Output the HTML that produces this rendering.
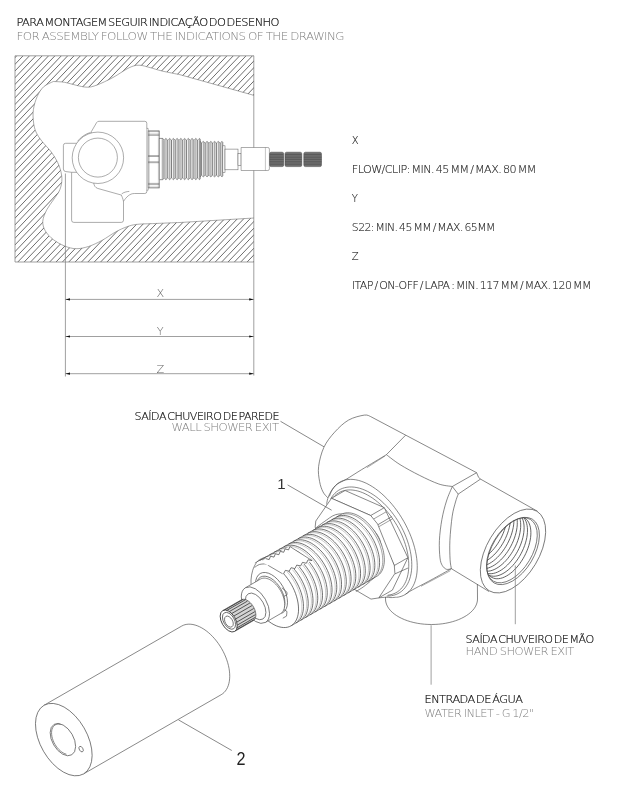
<!DOCTYPE html>
<html><head><meta charset="utf-8"><title>Assembly</title>
<style>
html,body{margin:0;padding:0;background:#fff;}
svg{display:block;filter:grayscale(1)}
text{font-family:"DejaVu Sans Light","DejaVu Sans","Liberation Sans",sans-serif;font-weight:200;}
.l{fill:none;stroke:#484848;stroke-width:0.65}
.lw{fill:#fff;stroke:#484848;stroke-width:0.65}
.h{stroke:#333;stroke-width:0.72;fill:none}
.d{stroke:#808080;stroke-width:0.75;fill:none}
.g{fill:none;stroke:#666;stroke-width:0.55}
.gw{fill:#fff;stroke:#666;stroke-width:0.55}
</style></head><body>
<svg width="619" height="800" viewBox="0 0 619 800">
<rect width="619" height="800" fill="#fff"/>
<defs><clipPath id="hc"><path clip-rule="evenodd" d="M15 55.8H254V262H15Z M53.30 81.50 C55.18 81.63 60.83 81.68 64.60 82.30 C68.37 82.92 72.13 84.38 75.90 85.20 C79.67 86.02 83.68 87.23 87.20 87.20 C90.72 87.17 92.70 86.62 97.00 85.00 C101.30 83.38 107.67 80.37 113.00 77.50 C118.33 74.63 124.67 69.85 129.00 67.80 C133.33 65.75 135.50 65.23 139.00 65.20 C142.50 65.17 146.17 66.63 150.00 67.60 C153.83 68.57 157.00 69.82 162.00 71.00 C167.00 72.18 177.00 74.08 180.00 74.70 L254 95.4 L254 218 L180 222.5 C175.45 222.68 159.95 223.28 152.70 223.60 C145.45 223.92 140.82 223.87 136.50 224.40 C132.18 224.93 130.30 225.53 126.80 226.80 C123.30 228.07 119.63 229.73 115.50 232.00 C111.37 234.27 106.50 237.98 102.00 240.40 C97.50 242.82 92.83 245.12 88.50 246.50 C84.17 247.88 79.98 248.78 76.00 248.70 C72.02 248.62 68.38 247.52 64.60 246.00 C60.82 244.48 56.53 242.15 53.30 239.60 C50.07 237.05 46.95 233.80 45.20 230.70 C43.45 227.60 42.53 224.50 42.80 221.00 C43.07 217.50 45.05 213.20 46.80 209.70 C48.55 206.20 51.13 203.32 53.30 200.00 C55.47 196.68 58.37 193.38 59.80 189.80 C61.23 186.22 62.03 182.55 61.90 178.50 C61.77 174.45 60.70 169.82 59.00 165.50 C57.30 161.18 54.53 156.63 51.70 152.60 C48.87 148.57 44.62 144.73 42.00 141.30 C39.38 137.87 37.42 135.22 36.00 132.00 C34.58 128.78 33.93 125.75 33.50 122.00 C33.07 118.25 32.78 113.75 33.40 109.50 C34.02 105.25 35.50 100.28 37.20 96.50 C38.90 92.72 40.92 89.30 43.60 86.80 C46.28 84.30 51.68 82.38 53.30 81.50Z"/></clipPath></defs>
<path class="h" clip-path="url(#hc)" d="M-428.08 262L-231.70 55.8M-421.71 262L-225.33 55.8M-415.34 262L-218.96 55.8M-408.97 262L-212.59 55.8M-402.60 262L-206.22 55.8M-396.23 262L-199.85 55.8M-389.86 262L-193.48 55.8M-383.49 262L-187.11 55.8M-377.12 262L-180.74 55.8M-370.75 262L-174.37 55.8M-364.38 262L-168.00 55.8M-358.01 262L-161.63 55.8M-351.64 262L-155.26 55.8M-345.27 262L-148.89 55.8M-338.90 262L-142.52 55.8M-332.53 262L-136.15 55.8M-326.16 262L-129.78 55.8M-319.79 262L-123.41 55.8M-313.42 262L-117.04 55.8M-307.05 262L-110.67 55.8M-300.68 262L-104.30 55.8M-294.31 262L-97.93 55.8M-287.94 262L-91.56 55.8M-281.57 262L-85.19 55.8M-275.20 262L-78.82 55.8M-268.83 262L-72.45 55.8M-262.46 262L-66.08 55.8M-256.09 262L-59.71 55.8M-249.72 262L-53.34 55.8M-243.35 262L-46.97 55.8M-236.98 262L-40.60 55.8M-230.61 262L-34.23 55.8M-224.24 262L-27.86 55.8M-217.87 262L-21.49 55.8M-211.50 262L-15.12 55.8M-205.13 262L-8.75 55.8M-198.76 262L-2.38 55.8M-192.39 262L3.99 55.8M-186.02 262L10.36 55.8M-179.65 262L16.73 55.8M-173.28 262L23.10 55.8M-166.91 262L29.47 55.8M-160.54 262L35.84 55.8M-154.17 262L42.21 55.8M-147.80 262L48.58 55.8M-141.43 262L54.95 55.8M-135.06 262L61.32 55.8M-128.69 262L67.69 55.8M-122.32 262L74.06 55.8M-115.95 262L80.43 55.8M-109.58 262L86.80 55.8M-103.21 262L93.17 55.8M-96.84 262L99.54 55.8M-90.47 262L105.91 55.8M-84.10 262L112.28 55.8M-77.73 262L118.65 55.8M-71.36 262L125.02 55.8M-64.99 262L131.39 55.8M-58.62 262L137.76 55.8M-52.25 262L144.13 55.8M-45.88 262L150.50 55.8M-39.51 262L156.87 55.8M-33.14 262L163.24 55.8M-26.77 262L169.61 55.8M-20.40 262L175.98 55.8M-14.03 262L182.35 55.8M-7.66 262L188.72 55.8M-1.29 262L195.09 55.8M5.08 262L201.46 55.8M11.45 262L207.83 55.8M17.82 262L214.20 55.8M24.19 262L220.57 55.8M30.56 262L226.94 55.8M36.93 262L233.31 55.8M43.30 262L239.68 55.8M49.67 262L246.05 55.8M56.04 262L252.42 55.8M62.41 262L258.79 55.8M68.78 262L265.16 55.8M75.15 262L271.53 55.8M81.52 262L277.90 55.8M87.89 262L284.27 55.8M94.26 262L290.64 55.8M100.63 262L297.01 55.8M107.00 262L303.38 55.8M113.37 262L309.75 55.8M119.74 262L316.12 55.8M126.11 262L322.49 55.8M132.48 262L328.86 55.8M138.85 262L335.23 55.8M145.22 262L341.60 55.8M151.59 262L347.97 55.8M157.96 262L354.34 55.8M164.33 262L360.71 55.8M170.70 262L367.08 55.8M177.07 262L373.45 55.8M183.44 262L379.82 55.8M189.81 262L386.19 55.8M196.18 262L392.56 55.8M202.55 262L398.93 55.8M208.92 262L405.30 55.8M215.29 262L411.67 55.8M221.66 262L418.04 55.8M228.03 262L424.41 55.8M234.40 262L430.78 55.8M240.77 262L437.15 55.8M247.14 262L443.52 55.8M253.51 262L449.89 55.8"/>
<path class="d" d="M254 55.8H15V262H254"/>
<path class="g" d="M53.30 81.50 C55.18 81.63 60.83 81.68 64.60 82.30 C68.37 82.92 72.13 84.38 75.90 85.20 C79.67 86.02 83.68 87.23 87.20 87.20 C90.72 87.17 92.70 86.62 97.00 85.00 C101.30 83.38 107.67 80.37 113.00 77.50 C118.33 74.63 124.67 69.85 129.00 67.80 C133.33 65.75 135.50 65.23 139.00 65.20 C142.50 65.17 146.17 66.63 150.00 67.60 C153.83 68.57 157.00 69.82 162.00 71.00 C167.00 72.18 177.00 74.08 180.00 74.70 L254 95.4"/>
<path class="g" d="M254 218 L180 222.5 C175.45 222.68 159.95 223.28 152.70 223.60 C145.45 223.92 140.82 223.87 136.50 224.40 C132.18 224.93 130.30 225.53 126.80 226.80 C123.30 228.07 119.63 229.73 115.50 232.00 C111.37 234.27 106.50 237.98 102.00 240.40 C97.50 242.82 92.83 245.12 88.50 246.50 C84.17 247.88 79.98 248.78 76.00 248.70 C72.02 248.62 68.38 247.52 64.60 246.00 C60.82 244.48 56.53 242.15 53.30 239.60 C50.07 237.05 46.95 233.80 45.20 230.70 C43.45 227.60 42.53 224.50 42.80 221.00 C43.07 217.50 45.05 213.20 46.80 209.70 C48.55 206.20 51.13 203.32 53.30 200.00 C55.47 196.68 58.37 193.38 59.80 189.80 C61.23 186.22 62.03 182.55 61.90 178.50 C61.77 174.45 60.70 169.82 59.00 165.50 C57.30 161.18 54.53 156.63 51.70 152.60 C48.87 148.57 44.62 144.73 42.00 141.30 C39.38 137.87 37.42 135.22 36.00 132.00 C34.58 128.78 33.93 125.75 33.50 122.00 C33.07 118.25 32.78 113.75 33.40 109.50 C34.02 105.25 35.50 100.28 37.20 96.50 C38.90 92.72 40.92 89.30 43.60 86.80 C46.28 84.30 51.68 82.38 53.30 81.50"/>
<path class="d" d="M253.8 55.8V375.5 M65.4 173.5V376.5"/>
<path class="d" d="M65.4 299.4H253.8"/>
<path fill="#111" d="M65.4 299.4l4.6 -1.1v2.2z M253.8 299.4l-4.6 -1.1v2.2z"/>
<path class="d" d="M65.4 336.5H253.8"/>
<path fill="#111" d="M65.4 336.5l4.6 -1.1v2.2z M253.8 336.5l-4.6 -1.1v2.2z"/>
<path class="d" d="M65.4 373.7H253.8"/>
<path fill="#111" d="M65.4 373.7l4.6 -1.1v2.2z M253.8 373.7l-4.6 -1.1v2.2z"/>
<path class="gw" d="M71.6 172.3V220.2Q71.6 222.4 73.8 222.4H121.3Q123.5 222.4 123.5 220.2V201.2"/>
<path class="gw" d="M78 143.3H65.6Q63.4 143.3 63.4 145.5V169Q63.4 171.4 65.8 171.6L71.6 172.3H78Z"/>
<path class="gw" d="M91.3 131.7L96.6 122.6Q97.4 121.3 98.9 121.3H144.8Q146.8 121.3 146.8 123.3V191.5Q146.8 193.5 144.8 193.5H134.5C129.5 193.5 126.5 197 123.5 201.3C122.8 198.5 122 196.3 121.2 195L97.6 188.4C95 187.4 94 185.5 93.8 183Z"/>
<path class="g" d="M121.6 194C123.5 192.3 126.5 191.6 129.3 191.4"/>
<circle class="gw" cx="97.9" cy="157.8" r="25.7"/>
<circle class="g" cx="97.9" cy="157.6" r="19.5"/>
<path class="g" d="M77.5 141.3A26.6 26.6 0 0 1 90.6 132.4"/>
<path class="gw" d="M146.8 128.4H148.1V190.2H146.8"/>
<rect class="gw" x="148.1" y="130.8" width="11.2" height="57.2"/>
<path class="g" d="M148.1 131.6H159.3M148.1 134.2H159.3M148.1 135.4H159.3M148.1 155.6H159.3M148.1 156.5H159.3M148.1 161.8H159.3M148.1 162.7H159.3M148.1 183.4H159.3M148.1 184.6H159.3M148.1 187.2H159.3"/>
<path class="g" style="stroke-opacity:0.6" d="M149.2 130.8V188M158.4 130.8V188"/>
<path d="M159.30 138.40 L162.90 138.40 L164.02 140.20 L165.89 138.40 L167.76 140.20 L169.63 138.40 L171.50 140.20 L173.37 138.40 L175.24 140.20 L177.11 138.40 L178.98 140.20 L180.85 138.40 L182.72 140.20 L184.59 138.40 L186.46 140.20 L188.33 138.40 L190.20 140.20 L192.07 138.40 L193.94 140.20 L195.81 138.40 L197.68 140.20 L199.55 138.40 L200.30 139.48 L200.30 178.62 L199.55 179.70 L197.68 177.90 L195.81 179.70 L193.94 177.90 L192.07 179.70 L190.20 177.90 L188.33 179.70 L186.46 177.90 L184.59 179.70 L182.72 177.90 L180.85 179.70 L178.98 177.90 L177.11 179.70 L175.24 177.90 L173.37 179.70 L171.50 177.90 L169.63 179.70 L167.76 177.90 L165.89 179.70 L164.02 177.90 L162.90 179.70 L159.30 179.70Z" fill="#dedede" stroke="#5a5a5a" stroke-width="0.6"/>
<rect x="159.30" y="138.40" width="2.80" height="41.30" fill="#fff" stroke="#666" stroke-width="0.5"/>
<path d="M164.96 139.66V178.44M168.70 139.66V178.44M172.44 139.66V178.44M176.18 139.66V178.44M179.92 139.66V178.44M183.66 139.66V178.44M187.40 139.66V178.44M191.14 139.66V178.44M194.88 139.66V178.44M198.62 139.66V178.44" stroke="#fff" stroke-width="0.9" fill="none"/>
<path d="M164.02 140.20V177.90M167.76 140.20V177.90M171.50 140.20V177.90M175.24 140.20V177.90M178.98 140.20V177.90M182.72 140.20V177.90M186.46 140.20V177.90M190.20 140.20V177.90M193.94 140.20V177.90M197.68 140.20V177.90" stroke="#4a4a4a" stroke-width="0.65" fill="none"/>
<path d="M165.89 138.80V179.30M169.63 138.80V179.30M173.37 138.80V179.30M177.11 138.80V179.30M180.85 138.80V179.30M184.59 138.80V179.30M188.33 138.80V179.30M192.07 138.80V179.30M195.81 138.80V179.30M199.55 138.80V179.30" stroke="#777" stroke-width="0.55" fill="none"/>
<path d="M200.30 141.40 L200.30 141.40 L201.43 143.00 L203.30 141.40 L205.18 143.00 L207.05 141.40 L208.93 143.00 L210.80 141.40 L212.68 143.00 L214.55 141.40 L216.43 143.00 L218.30 141.40 L220.18 143.00 L222.05 141.40 L222.80 142.36 L222.80 175.84 L222.05 176.80 L220.18 175.20 L218.30 176.80 L216.43 175.20 L214.55 176.80 L212.68 175.20 L210.80 176.80 L208.93 175.20 L207.05 176.80 L205.18 175.20 L203.30 176.80 L201.43 175.20 L200.30 176.80 L200.30 176.80Z" fill="#dedede" stroke="#5a5a5a" stroke-width="0.6"/>
<path d="M202.36 142.52V175.68M206.11 142.52V175.68M209.86 142.52V175.68M213.61 142.52V175.68M217.36 142.52V175.68M221.11 142.52V175.68" stroke="#fff" stroke-width="0.9" fill="none"/>
<path d="M201.43 143.00V175.20M205.18 143.00V175.20M208.93 143.00V175.20M212.68 143.00V175.20M216.43 143.00V175.20M220.18 143.00V175.20" stroke="#4a4a4a" stroke-width="0.65" fill="none"/>
<path d="M203.30 141.80V176.40M207.05 141.80V176.40M210.80 141.80V176.40M214.55 141.80V176.40M218.30 141.80V176.40M222.05 141.80V176.40" stroke="#777" stroke-width="0.55" fill="none"/>
<rect class="gw" x="222.8" y="145.8" width="2.2" height="26.6"/>
<rect class="gw" x="225" y="149.1" width="13" height="20.7"/>
<rect class="gw" x="238" y="153.3" width="3.1" height="12.2"/>
<path class="gw" d="M241.1 147.5H267.8Q269.4 147.5 269.4 149.1V168.9Q269.4 170.5 267.8 170.5H241.1Z"/>
<path class="g" style="stroke-opacity:0.7" d="M265.4 147.5V170.5"/>
<rect x="269.6" y="152.2" width="14.1" height="14.4" rx="1.6" fill="#6e6e6e" stroke="#444" stroke-width="0.5"/>
<path d="M270.1 154.6H283.2M269.6 157.2H283.7M269.6 159.4H283.7M269.6 161.8H283.7M270.1 164.2H283.2" stroke="#444" stroke-width="0.5"/>
<rect x="285.0" y="152.2" width="16.8" height="14.4" rx="1.6" fill="#6e6e6e" stroke="#444" stroke-width="0.5"/>
<path d="M285.5 154.6H301.3M285.0 157.2H301.8M285.0 159.4H301.8M285.0 161.8H301.8M285.5 164.2H301.3" stroke="#444" stroke-width="0.5"/>
<rect x="303.8" y="152.2" width="17.7" height="14.4" rx="1.6" fill="#6e6e6e" stroke="#444" stroke-width="0.5"/>
<path d="M304.3 154.6H321.0M303.8 157.2H321.5M303.8 159.4H321.5M303.8 161.8H321.5M304.3 164.2H321.0" stroke="#444" stroke-width="0.5"/>
<path class="lw" d="M44.00 705.31 L181.60 626.11 L183.25 625.29 L185.01 624.70 L186.88 624.32 L188.83 624.17 L190.86 624.24 L192.96 624.53 L195.11 625.05 L197.29 625.78 L199.51 626.72 L201.73 627.88 L203.95 629.23 L206.16 630.78 L208.33 632.51 L210.47 634.41 L212.55 636.47 L214.55 638.68 L216.48 641.02 L218.32 643.48 L220.05 646.05 L221.66 648.70 L223.16 651.43 L224.51 654.21 L225.73 657.03 L226.79 659.87 L227.70 662.71 L228.45 665.54 L229.02 668.34 L229.43 671.09 L229.67 673.78 L229.73 676.38 L229.62 678.88 L229.33 681.27 L228.87 683.53 L228.24 685.65 L227.45 687.61 L226.49 689.40 L225.38 691.02 L224.13 692.44 L222.73 693.67 L221.20 694.69 L83.60 773.89"/>
<ellipse class="lw" cx="63.80" cy="739.60" rx="39.60" ry="23.40" transform="rotate(60.00 63.80 739.60)"/>
<ellipse class="l" cx="62.90" cy="739.60" rx="17.60" ry="10.60" transform="rotate(60.00 62.90 739.60)"/>
<path class="l" d="M60.60 724.37 L59.11 724.12 L57.70 724.13 L56.39 724.40 L55.20 724.92 L54.15 725.69 L53.26 726.69 L52.55 727.91 L52.03 729.32 L51.70 730.91 L51.57 732.63 L51.65 734.48 L51.92 736.40 L52.40 738.37 L53.07 740.36 L53.92 742.33 L54.93 744.25 L56.08 746.08 L57.37 747.80 L58.76 749.37 L60.23 750.77 L61.75 751.98 L63.31 752.97 L64.87 753.72 L66.40 754.23"/>
<ellipse class="l" cx="81.10" cy="749.10" rx="3.00" ry="1.80" transform="rotate(60.00 81.10 749.10)"/>
<path class="lw" d="M385.5 597 L385.50 599.00 L385.64 601.00 L386.07 602.99 L386.77 604.95 L387.75 606.88 L389.00 608.76 L390.51 610.58 L392.28 612.32 L394.29 613.99 L396.52 615.56 L398.97 617.03 L401.63 618.39 L404.46 619.63 L407.47 620.74 L410.62 621.72 L413.90 622.56 L417.29 623.25 L420.76 623.80 L424.30 624.19 L427.89 624.42 L431.50 624.50 L435.11 624.42 L438.70 624.19 L442.24 623.80 L445.71 623.25 L449.10 622.56 L452.38 621.72 L455.53 620.74 L458.54 619.63 L461.37 618.39 L464.03 617.03 L466.48 615.56 L468.71 613.99 L470.72 612.32 L472.49 610.58 L474.00 608.76 L475.25 606.88 L476.23 604.95 L476.93 602.99 L477.36 601.00 L477.50 599.00 L477.4 584.2"/>
<path class="l" d="M327.80 497.80 C327.00 496.82 324.37 494.62 323.00 491.90 C321.63 489.18 320.33 485.73 319.60 481.50 C318.87 477.27 317.88 472.20 318.60 466.50 C319.32 460.80 321.23 453.02 323.90 447.30 C326.57 441.58 330.50 436.73 334.60 432.20 C338.70 427.67 343.55 422.95 348.50 420.10 C353.45 417.25 360.60 415.68 364.30 415.10 C368.00 414.52 369.63 416.35 370.70 416.60 L476.6 472.7 L478.6 477.4 L480.5 479.1 L537.5 511.3"/>
<path class="l" d="M405.60 435.20 L386.40 454.70"/>
<path class="l" d="M386.40 454.70 C388.67 456.35 394.50 461.17 400.00 464.60 C405.50 468.03 412.93 472.07 419.40 475.30 C425.87 478.53 433.32 482.13 438.80 484.00 C444.28 485.87 450.05 486.08 452.30 486.50"/>
<path class="l" d="M386.40 454.70 C382.28 457.18 368.40 465.50 361.70 469.60 C355.00 473.70 350.30 476.87 346.20 479.30 C342.10 481.73 339.60 482.25 337.10 484.20 C334.60 486.15 332.75 488.62 331.20 491.00 C329.65 493.38 328.57 496.25 327.80 498.50 C327.03 500.75 326.80 503.50 326.60 504.50"/>
<path class="l" style="stroke-opacity:0.7" d="M385.00 456.00 L366.90 467.70"/>
<path class="l" d="M452.30 486.50 L476.60 472.70"/>
<path class="l" d="M458.20 494.10 L480.50 479.10"/>
<path class="l" d="M452.30 486.50 L458.20 494.10"/>
<path class="l" d="M452.30 486.50 C451.33 488.92 448.23 495.52 446.50 501.00 C444.77 506.48 443.08 512.83 441.90 519.40 C440.72 525.97 439.72 533.97 439.40 540.40 C439.08 546.83 439.52 553.82 440.00 558.00 C440.48 562.18 441.22 563.62 442.30 565.50 C443.38 567.38 444.98 568.77 446.50 569.30 C448.02 569.83 450.58 568.80 451.40 568.70"/>
<path class="l" d="M458.20 494.10 C457.75 495.42 456.50 498.32 455.50 502.00 C454.50 505.68 453.13 509.80 452.20 516.20 C451.27 522.60 450.25 533.13 449.90 540.40 C449.55 547.67 449.85 555.08 450.10 559.80 C450.35 564.52 451.18 567.22 451.40 568.70"/>
<path class="l" d="M451.40 568.70 L489.00 591.50"/>
<path class="l" d="M451.40 568.70 C448.00 570.58 437.53 576.45 431.00 580.00 C424.47 583.55 416.45 587.63 412.20 590.00 C407.95 592.37 406.62 593.50 405.50 594.20"/>
<path class="l" style="stroke-width:0.45" d="M450.40 570.70 L421.00 586.30"/>
<ellipse class="lw" cx="513.00" cy="551.00" rx="46.40" ry="26.00" transform="rotate(121.00 513.00 551.00)"/>
<ellipse class="l" cx="513.10" cy="551.00" rx="37.20" ry="21.00" transform="rotate(121.00 513.10 551.00)"/>
<defs><clipPath id="bore"><ellipse cx="511.90" cy="550.30" rx="36.0" ry="20.2" transform="rotate(121.00 511.90 550.30)"/></clipPath></defs>
<ellipse class="l" cx="511.90" cy="550.30" rx="36.00" ry="20.20" transform="rotate(121.00 511.90 550.30)"/>
<path class="l" style="stroke-width:0.8;stroke:#3c3c3c" clip-path="url(#bore)" d="M489.42 575.53 L490.66 576.63 L492.03 577.51 L493.52 578.15 L495.12 578.57 L496.82 578.74 L498.61 578.68 L500.47 578.38 L502.38 577.85 L504.34 577.08 L506.32 576.09 L508.32 574.89 L510.31 573.47 L512.29 571.86 L514.23 570.06 L516.13 568.09 L517.96 565.96 L519.72 563.69 L521.39 561.30 L522.96 558.80 L524.41 556.22 L525.74 553.57 L526.94 550.87 L527.99 548.15 L528.88 545.42 L529.62 542.71 L530.20 540.04 L530.60 537.42 L530.83 534.88 L530.89 532.43 L530.78 530.10 L530.49 527.90 L530.03 525.85 L529.40 523.97 L528.61 522.26 L527.66 520.75 L526.56 519.44 L525.32 518.34 L523.95 517.46 L522.46 516.82 L520.86 516.40 M486.03 573.03 L487.26 574.12 L488.64 575.00 L490.13 575.65 L491.73 576.06 L493.43 576.24 L495.22 576.18 L497.07 575.88 L498.99 575.34 L500.94 574.58 L502.93 573.59 L504.92 572.38 L506.92 570.96 L508.89 569.35 L510.84 567.55 L512.74 565.58 L514.57 563.45 L516.33 561.18 L518.00 558.79 L519.57 556.29 L521.02 553.71 L522.35 551.06 L523.54 548.37 L524.59 545.64 L525.49 542.92 L526.23 540.21 L526.80 537.53 L527.21 534.91 L527.44 532.37 L527.50 529.93 L527.38 527.60 L527.09 525.40 L526.63 523.35 L526.00 521.46 L525.21 519.76 L524.27 518.24 L523.17 516.93 L521.93 515.83 L520.56 514.96 L519.07 514.31 L517.47 513.90 M482.63 570.52 L483.87 571.62 L485.24 572.49 L486.73 573.14 L488.34 573.55 L490.04 573.73 L491.82 573.67 L493.68 573.37 L495.59 572.84 L497.55 572.07 L499.53 571.08 L501.53 569.87 L503.52 568.46 L505.50 566.84 L507.45 565.05 L509.34 563.07 L511.18 560.95 L512.94 558.68 L514.60 556.29 L516.17 553.79 L517.63 551.21 L518.95 548.56 L520.15 545.86 L521.20 543.14 L522.10 540.41 L522.83 537.70 L523.41 535.03 L523.81 532.41 L524.04 529.87 L524.10 527.42 L523.99 525.09 L523.70 522.89 L523.24 520.84 L522.61 518.96 L521.82 517.25 L520.87 515.74 L519.77 514.43 L518.54 513.33 L517.17 512.45 L515.67 511.81 L514.07 511.39 M479.24 568.01 L480.48 569.11 L481.85 569.99 L483.34 570.63 L484.94 571.05 L486.64 571.22 L488.43 571.16 L490.28 570.86 L492.20 570.33 L494.15 569.57 L496.14 568.58 L498.14 567.37 L500.13 565.95 L502.11 564.34 L504.05 562.54 L505.95 560.57 L507.78 558.44 L509.54 556.17 L511.21 553.78 L512.78 551.28 L514.23 548.70 L515.56 546.05 L516.75 543.35 L517.80 540.63 L518.70 537.90 L519.44 535.19 L520.01 532.52 L520.42 529.90 L520.65 527.36 L520.71 524.91 L520.59 522.58 L520.30 520.38 L519.84 518.33 L519.22 516.45 L518.43 514.74 L517.48 513.23 L516.38 511.92 L515.14 510.82 L513.77 509.95 L512.28 509.30 L510.68 508.89 M475.84 565.51 L477.08 566.61 L478.45 567.48 L479.95 568.13 L481.55 568.54 L483.25 568.72 L485.03 568.66 L486.89 568.36 L488.80 567.83 L490.76 567.06 L492.74 566.07 L494.74 564.86 L496.74 563.45 L498.71 561.83 L500.66 560.03 L502.55 558.06 L504.39 555.93 L506.15 553.67 L507.82 551.27 L509.38 548.78 L510.84 546.19 L512.17 543.54 L513.36 540.85 L514.41 538.13 L515.31 535.40 L516.05 532.69 L516.62 530.01 L517.02 527.39 L517.26 524.85 L517.31 522.41 L517.20 520.08 L516.91 517.88 L516.45 515.83 L515.82 513.94 L515.03 512.24 L514.08 510.72 L512.99 509.41 L511.75 508.32 L510.38 507.44 L508.89 506.79 L507.28 506.38 M472.45 563.00 L473.69 564.10 L475.06 564.98 L476.55 565.62 L478.15 566.04 L479.85 566.21 L481.64 566.15 L483.50 565.85 L485.41 565.32 L487.37 564.55 L489.35 563.56 L491.35 562.36 L493.34 560.94 L495.32 559.33 L497.26 557.53 L499.16 555.56 L500.99 553.43 L502.75 551.16 L504.42 548.77 L505.99 546.27 L507.44 543.69 L508.77 541.04 L509.97 538.34 L511.02 535.62 L511.91 532.89 L512.65 530.18 L513.22 527.51 L513.63 524.89 L513.86 522.35 L513.92 519.90 L513.81 517.57 L513.52 515.37 L513.06 513.32 L512.43 511.44 L511.64 509.73 L510.69 508.22 L509.59 506.91 L508.35 505.81 L506.98 504.93 L505.49 504.29 L503.89 503.87 M469.06 560.50 L470.29 561.59 L471.67 562.47 L473.16 563.12 L474.76 563.53 L476.46 563.71 L478.24 563.65 L480.10 563.35 L482.01 562.81 L483.97 562.05 L485.96 561.06 L487.95 559.85 L489.95 558.43 L491.92 556.82 L493.87 555.02 L495.77 553.05 L497.60 550.92 L499.36 548.65 L501.03 546.26 L502.60 543.76 L504.05 541.18 L505.38 538.53 L506.57 535.84 L507.62 533.11 L508.52 530.39 L509.26 527.68 L509.83 525.00 L510.24 522.38 L510.47 519.84 L510.53 517.40 L510.41 515.06 L510.12 512.87 L509.66 510.82 L509.03 508.93 L508.24 507.23 L507.30 505.71 L506.20 504.40 L504.96 503.30 L503.59 502.43 L502.10 501.78 L500.49 501.37 M465.66 557.99 L466.90 559.09 L468.27 559.96 L469.76 560.61 L471.37 561.02 L473.07 561.20 L474.85 561.14 L476.71 560.84 L478.62 560.31 L480.58 559.54 L482.56 558.55 L484.56 557.34 L486.55 555.93 L488.53 554.31 L490.47 552.52 L492.37 550.54 L494.21 548.42 L495.96 546.15 L497.63 543.76 L499.20 541.26 L500.66 538.67 L501.98 536.03 L503.18 533.33 L504.23 530.61 L505.12 527.88 L505.86 525.17 L506.44 522.49 L506.84 519.88 L507.07 517.34 L507.13 514.89 L507.02 512.56 L506.73 510.36 L506.27 508.31 L505.64 506.43 L504.85 504.72 L503.90 503.21 L502.80 501.89 L501.57 500.80 L500.20 499.92 L498.70 499.28 L497.10 498.86"/>
<path class="l" d="M396.46 597.34 L398.84 596.98 L401.11 596.38 L403.27 595.54 L405.29 594.46 L407.18 593.15 L408.93 591.61 L410.53 589.86 L411.97 587.89 L413.24 585.72 L414.35 583.35 L415.28 580.80 L416.04 578.07 L416.62 575.18 L417.01 572.14 L417.22 568.95 L417.24 565.64 L417.08 562.22 L416.74 558.70 L416.21 555.10 L415.50 551.42 L414.61 547.70 L413.55 543.93 L412.32 540.14 L410.92 536.35 L409.36 532.56 L407.65 528.80 L405.80 525.07 L403.81 521.40 L401.68 517.81 L399.44 514.29 L397.08 510.88 L394.63 507.58 L392.08 504.41 L389.45 501.37 L386.75 498.50 L383.99 495.78 L381.18 493.24 L378.34 490.89 L375.47 488.74 L372.59 486.79 L369.70 485.05 L366.83 483.53 L363.98 482.24 L361.17 481.19 L358.40 480.36 L355.70 479.78 L353.06 479.44 L350.50 479.35 L348.03 479.50 L345.66 479.89 L343.40 480.52 L341.26 481.39 L339.25 482.50 L337.38 483.84 L335.65 485.40 L334.07 487.19 L332.66 489.18 L331.40 491.38 L330.32 493.77 L329.41 496.35"/>
<path class="l" d="M396.40 597.20 C395.50 597.27 392.73 597.60 391.00 597.60 C389.27 597.60 388.03 597.15 386.00 597.20 C383.97 597.25 380.00 597.78 378.80 597.90"/>
<path class="l" d="M386.65 596.04 L389.10 596.00 L391.47 595.73 L393.75 595.24 L395.93 594.53 L398.00 593.61 L399.95 592.47 L401.77 591.12 L403.46 589.57 L405.01 587.82 L406.42 585.88 L407.67 583.77 L408.76 581.47 L409.69 579.02 L410.45 576.41 L411.05 573.66 L411.47 570.77 L411.72 567.77 L411.79 564.66 L411.69 561.45 L411.42 558.16 L410.97 554.81 L410.35 551.40 L409.56 547.95 L408.61 544.47 L407.49 540.98 L406.22 537.49 L404.80 534.02 L403.22 530.58 L401.51 527.19 L399.67 523.85 L397.70 520.59 L395.62 517.41 L393.42 514.33 L391.13 511.36 L388.75 508.51 L386.28 505.80 L383.75 503.24 L381.15 500.83 L378.51 498.59 L375.83 496.52 L373.12 494.64 L370.39 492.95 L367.66 491.46 L364.93 490.17 L362.22 489.10 L359.54 488.23 L356.90 487.59 L354.31 487.17 L351.78 486.97 L349.32 486.99 L346.94 487.24 L344.65 487.71 L342.46 488.39 L340.39 489.30 L338.42 490.42 L336.59 491.75 L334.88 493.28 L333.32 495.01 L331.91 496.93 L330.64 499.03"/>
<path class="l" d="M387.80 595.18 L389.95 594.87 L392.02 594.36 L394.00 593.66 L395.88 592.77 L397.66 591.69 L399.32 590.43 L400.86 588.99 L402.29 587.38 L403.58 585.60 L404.73 583.66 L405.75 581.57 L406.63 579.33 L407.36 576.95 L407.94 574.45 L408.37 571.83 L408.65 569.09 L408.78 566.26 L408.75 563.34 L408.57 560.35 L408.24 557.29 L407.75 554.17 L407.12 551.01 L406.34 547.82 L405.41 544.61 L404.34 541.39 L403.14 538.17 L401.80 534.98 L400.34 531.81 L398.75 528.68 L397.04 525.60 L395.23 522.59 L393.32 519.65 L391.30 516.79 L389.20 514.04 L387.02 511.39 L384.77 508.85 L382.45 506.44 L380.08 504.17 L377.66 502.04 L375.20 500.06 L372.72 498.24 L370.21 496.59 L367.70 495.11 L365.18 493.80 L362.68 492.68 L360.19 491.74 L357.73 490.99 L355.31 490.44 L352.93 490.08 L350.61 489.91 L348.35 489.94 L346.16 490.17 L344.05 490.60 L342.04 491.21 L340.11 492.02 L338.29 493.02 L336.58 494.20 L334.98 495.57 L333.51 497.11 L332.16 498.82"/>
<path class="lw" d="M331.50 498.30 L345.10 490.50 L384.30 507.70 L407.90 557.70 L392.40 590.10 L378.80 597.90 L394.30 565.50 L370.70 515.50Z"/>
<path class="l" d="M370.70 515.50 L384.30 507.70"/>
<path class="l" d="M394.30 565.50 L407.90 557.70"/>
<path class="l" style="stroke-opacity:0.8" d="M372.60 519.60 L386.00 511.90"/>
<path class="l" d="M378.10 524.60 L391.70 516.60"/>
<path class="l" style="stroke-opacity:0.8" d="M379.00 526.60 L392.60 518.80"/>
<path class="l" d="M394.90 573.90 L407.90 568.10"/>
<path class="lw" d="M331.50 498.30 L370.70 515.50 L377.60 524.00 L394.30 565.50 L394.90 573.50 L378.80 597.90 L371.00 599.10 L339.60 580.70 L316.00 530.70 L315.20 526.90 L315.80 521.00Z"/>
<path class="l" d="M315.50 528.20 C316.95 527.12 320.82 523.97 324.20 521.70 C327.58 519.43 331.70 515.78 335.80 514.60 C339.90 513.42 344.48 513.85 348.80 514.60 C353.12 515.35 357.83 516.83 361.70 519.10 C365.57 521.37 368.98 524.75 372.00 528.20 C375.02 531.65 378.20 535.20 379.80 539.80 C381.40 544.40 381.77 550.97 381.60 555.80 C381.43 560.63 380.35 564.92 378.80 568.80 C377.25 572.68 374.88 576.08 372.30 579.10 C369.72 582.12 366.03 584.83 363.30 586.90 C360.57 588.97 357.13 590.73 355.90 591.50"/>
<path class="lw" d="M254.80 563.15 L341.20 514.43 L342.66 513.72 L344.22 513.19 L345.88 512.87 L347.61 512.75 L349.42 512.83 L351.28 513.10 L353.20 513.58 L355.15 514.25 L357.12 515.12 L359.10 516.17 L361.09 517.40 L363.06 518.80 L365.01 520.37 L366.92 522.09 L368.78 523.96 L370.58 525.95 L372.31 528.07 L373.96 530.29 L375.52 532.61 L376.98 535.00 L378.32 537.46 L379.55 539.96 L380.65 542.50 L381.62 545.06 L382.44 547.62 L383.13 550.16 L383.66 552.68 L384.04 555.15 L384.27 557.56 L384.35 559.89 L384.27 562.14 L384.03 564.28 L383.64 566.30 L383.09 568.20 L382.40 569.95 L381.57 571.56 L380.59 573.00 L379.48 574.27 L378.25 575.36 L376.90 576.27 L291.00 625.85"/>
<path class="l" style="stroke-width:0.72;stroke:#3c3c3c" d="M336.41 517.13 L338.04 516.35 L339.80 515.81 L341.66 515.51 L343.62 515.46 L345.67 515.65 L347.78 516.10 L349.93 516.79 L352.12 517.71 L354.33 518.87 L356.54 520.25 L358.73 521.84 L360.88 523.63 L362.99 525.61 L365.03 527.76 L366.98 530.06 L368.84 532.50 L370.59 535.06 L372.22 537.71 L373.71 540.45 L375.05 543.24 L376.23 546.08 L377.25 548.92 L378.09 551.76 L378.75 554.57 L379.22 557.34 L379.50 560.03 L379.59 562.63 L379.49 565.12 L379.20 567.48 L378.72 569.69 L378.05 571.74 L377.20 573.61 L376.17 575.28 L374.98 576.75 L373.63 578.00 L372.14 579.02 M331.62 519.84 L333.25 519.05 L335.01 518.51 L336.88 518.21 L338.84 518.16 L340.88 518.35 L342.99 518.80 L345.15 519.49 L347.34 520.42 L349.55 521.57 L351.76 522.95 L353.95 524.55 L356.11 526.34 L358.22 528.32 L360.26 530.47 L362.22 532.77 L364.08 535.21 L365.83 537.77 L367.46 540.43 L368.95 543.17 L370.29 545.97 L371.47 548.80 L372.49 551.65 L373.33 554.49 L373.99 557.30 L374.46 560.07 L374.75 562.76 L374.84 565.36 L374.74 567.86 L374.44 570.22 L373.96 572.43 L373.29 574.48 L372.44 576.35 L371.41 578.03 L370.22 579.50 L368.87 580.74 L367.37 581.77 M326.83 522.54 L328.46 521.75 L330.22 521.21 L332.09 520.91 L334.05 520.86 L336.10 521.06 L338.21 521.50 L340.37 522.19 L342.57 523.12 L344.78 524.28 L346.99 525.66 L349.18 527.25 L351.34 529.05 L353.45 531.02 L355.49 533.18 L357.45 535.48 L359.31 537.93 L361.06 540.49 L362.69 543.15 L364.18 545.89 L365.53 548.69 L366.71 551.52 L367.73 554.37 L368.57 557.22 L369.23 560.03 L369.70 562.80 L369.99 565.50 L370.08 568.10 L369.98 570.60 L369.68 572.96 L369.20 575.18 L368.53 577.23 L367.68 579.10 L366.65 580.77 L365.46 582.24 L364.11 583.49 L362.61 584.52 M322.04 525.24 L323.67 524.45 L325.43 523.91 L327.30 523.61 L329.27 523.56 L331.32 523.76 L333.43 524.20 L335.59 524.89 L337.79 525.82 L340.00 526.98 L342.21 528.36 L344.41 529.96 L346.57 531.75 L348.68 533.73 L350.72 535.89 L352.68 538.19 L354.55 540.64 L356.30 543.20 L357.93 545.87 L359.42 548.61 L360.76 551.41 L361.95 554.25 L362.97 557.10 L363.81 559.95 L364.47 562.76 L364.95 565.53 L365.23 568.23 L365.32 570.84 L365.22 573.33 L364.93 575.70 L364.44 577.92 L363.77 579.97 L362.92 581.84 L361.89 583.52 L360.70 584.99 L359.35 586.24 L357.85 587.27 M317.24 527.94 L318.88 527.15 L320.64 526.61 L322.51 526.31 L324.48 526.26 L326.53 526.46 L328.65 526.90 L330.81 527.59 L333.01 528.52 L335.22 529.68 L337.44 531.07 L339.63 532.66 L341.79 534.46 L343.91 536.44 L345.95 538.60 L347.91 540.91 L349.78 543.35 L351.54 545.92 L353.17 548.58 L354.66 551.33 L356.00 554.13 L357.19 556.97 L358.21 559.83 L359.05 562.67 L359.71 565.50 L360.19 568.27 L360.47 570.97 L360.56 573.57 L360.46 576.07 L360.17 578.44 L359.68 580.66 L359.01 582.71 L358.16 584.59 L357.13 586.27 L355.94 587.74 L354.58 588.99 L353.08 590.01 M312.45 530.64 L314.09 529.85 L315.85 529.31 L317.73 529.01 L319.70 528.96 L321.75 529.16 L323.86 529.60 L326.03 530.29 L328.23 531.22 L330.44 532.38 L332.66 533.77 L334.86 535.37 L337.02 537.16 L339.14 539.15 L341.18 541.31 L343.15 543.62 L345.01 546.07 L346.77 548.63 L348.40 551.30 L349.90 554.05 L351.24 556.85 L352.43 559.70 L353.45 562.55 L354.29 565.40 L354.96 568.23 L355.43 571.00 L355.71 573.70 L355.81 576.31 L355.70 578.81 L355.41 581.18 L354.93 583.40 L354.25 585.46 L353.40 587.33 L352.37 589.01 L351.18 590.49 L349.82 591.74 L348.32 592.76 M307.66 533.34 L309.30 532.55 L311.07 532.01 L312.94 531.71 L314.91 531.66 L316.96 531.86 L319.08 532.30 L321.25 532.99 L323.45 533.92 L325.67 535.09 L327.88 536.47 L330.08 538.07 L332.25 539.87 L334.36 541.86 L336.41 544.02 L338.38 546.33 L340.25 548.78 L342.01 551.35 L343.64 554.02 L345.13 556.77 L346.48 559.58 L347.67 562.42 L348.69 565.28 L349.53 568.13 L350.20 570.96 L350.67 573.73 L350.96 576.44 L351.05 579.05 L350.95 581.55 L350.65 583.92 L350.17 586.14 L349.49 588.20 L348.64 590.08 L347.61 591.76 L346.41 593.23 L345.06 594.49 L343.56 595.51 M302.87 536.04 L304.51 535.26 L306.28 534.71 L308.15 534.41 L310.13 534.36 L312.18 534.56 L314.30 535.00 L316.47 535.70 L318.67 536.63 L320.89 537.79 L323.11 539.18 L325.31 540.78 L327.48 542.58 L329.59 544.57 L331.64 546.72 L333.61 549.04 L335.48 551.49 L337.24 554.06 L338.88 556.74 L340.37 559.49 L341.72 562.30 L342.91 565.14 L343.93 568.00 L344.78 570.86 L345.44 573.69 L345.91 576.46 L346.20 579.17 L346.29 581.79 L346.19 584.29 L345.89 586.66 L345.41 588.89 L344.74 590.95 L343.88 592.82 L342.85 594.51 L341.65 595.98 L340.30 597.24 L338.79 598.26 M298.08 538.75 L299.72 537.96 L301.49 537.41 L303.37 537.11 L305.34 537.06 L307.40 537.26 L309.52 537.70 L311.69 538.40 L313.89 539.33 L316.11 540.49 L318.33 541.88 L320.54 543.48 L322.71 545.28 L324.82 547.27 L326.88 549.43 L328.84 551.75 L330.72 554.21 L332.48 556.78 L334.11 559.45 L335.61 562.21 L336.96 565.02 L338.15 567.87 L339.17 570.73 L340.02 573.59 L340.68 576.42 L341.16 579.20 L341.44 581.91 L341.53 584.52 L341.43 587.03 L341.14 589.40 L340.65 591.63 L339.98 593.69 L339.12 595.57 L338.09 597.25 L336.89 598.73 L335.54 599.99 L334.03 601.01 M293.29 541.45 L294.93 540.66 L296.70 540.11 L298.58 539.81 L300.55 539.76 L302.61 539.96 L304.73 540.41 L306.91 541.10 L309.11 542.03 L311.34 543.20 L313.56 544.58 L315.76 546.19 L317.93 547.99 L320.05 549.98 L322.11 552.14 L324.08 554.46 L325.95 556.92 L327.71 559.50 L329.35 562.17 L330.85 564.93 L332.20 567.74 L333.39 570.59 L334.41 573.46 L335.26 576.32 L335.92 579.15 L336.40 581.93 L336.68 584.64 L336.78 587.26 L336.67 589.77 L336.38 592.14 L335.89 594.37 L335.22 596.43 L334.36 598.31 L333.33 600.00 L332.13 601.48 L330.77 602.73 L329.27 603.76 M288.50 544.15 L290.14 543.36 L291.91 542.81 L293.79 542.51 L295.77 542.46 L297.83 542.66 L299.95 543.11 L302.13 543.80 L304.33 544.73 L306.56 545.90 L308.78 547.29 L310.99 548.89 L313.16 550.70 L315.28 552.69 L317.34 554.85 L319.31 557.17 L321.18 559.63 L322.95 562.21 L324.59 564.89 L326.09 567.65 L327.44 570.46 L328.63 573.31 L329.65 576.18 L330.50 579.04 L331.16 581.88 L331.64 584.66 L331.93 587.37 L332.02 590.00 L331.92 592.50 L331.62 594.88 L331.13 597.11 L330.46 599.18 L329.60 601.06 L328.57 602.75 L327.37 604.22 L326.01 605.48 L324.50 606.51 M283.71 546.85 L285.35 546.06 L287.12 545.51 L289.01 545.21 L290.98 545.16 L293.04 545.36 L295.17 545.81 L297.35 546.50 L299.56 547.43 L301.78 548.60 L304.01 549.99 L306.22 551.60 L308.39 553.40 L310.51 555.40 L312.57 557.56 L314.54 559.89 L316.42 562.35 L318.18 564.93 L319.82 567.61 L321.32 570.37 L322.68 573.18 L323.87 576.04 L324.89 578.91 L325.74 581.77 L326.41 584.61 L326.88 587.39 L327.17 590.11 L327.26 592.73 L327.16 595.24 L326.86 597.62 L326.38 599.86 L325.70 601.92 L324.84 603.81 L323.81 605.49 L322.61 606.97 L321.25 608.23 L319.74 609.26 M278.92 549.55 L280.56 548.76 L282.34 548.21 L284.22 547.91 L286.20 547.86 L288.26 548.06 L290.39 548.51 L292.57 549.20 L294.78 550.14 L297.00 551.30 L299.23 552.70 L301.44 554.30 L303.62 556.11 L305.74 558.11 L307.80 560.27 L309.78 562.60 L311.65 565.06 L313.42 567.64 L315.06 570.32 L316.56 573.09 L317.91 575.91 L319.11 578.76 L320.13 581.64 L320.98 584.50 L321.65 587.34 L322.13 590.13 L322.41 592.84 L322.50 595.47 L322.40 597.98 L322.10 600.36 L321.62 602.60 L320.94 604.67 L320.08 606.55 L319.05 608.24 L317.85 609.72 L316.49 610.98 L314.98 612.01 M274.12 552.25 L275.77 551.46 L277.55 550.91 L279.43 550.61 L281.41 550.56 L283.48 550.76 L285.61 551.21 L287.79 551.90 L290.00 552.84 L292.23 554.01 L294.46 555.40 L296.67 557.01 L298.85 558.82 L300.97 560.81 L303.03 562.98 L305.01 565.31 L306.89 567.77 L308.65 570.36 L310.30 573.04 L311.80 575.80 L313.15 578.63 L314.35 581.49 L315.37 584.36 L316.22 587.23 L316.89 590.07 L317.37 592.86 L317.65 595.58 L317.75 598.21 L317.64 600.72 L317.35 603.11 L316.86 605.34 L316.18 607.41 L315.32 609.30 L314.29 610.99 L313.09 612.47 L311.72 613.73 L310.21 614.76 M269.33 554.95 L270.98 554.16 L272.76 553.61 L274.64 553.31 L276.63 553.26 L278.69 553.46 L280.82 553.91 L283.00 554.60 L285.22 555.54 L287.45 556.71 L289.68 558.10 L291.89 559.71 L294.07 561.52 L296.20 563.52 L298.26 565.69 L300.24 568.02 L302.12 570.49 L303.89 573.07 L305.53 575.76 L307.04 578.52 L308.39 581.35 L309.59 584.21 L310.61 587.09 L311.46 589.96 L312.13 592.80 L312.61 595.59 L312.90 598.31 L312.99 600.94 L312.89 603.46 L312.59 605.85 L312.10 608.08 L311.42 610.15 L310.57 612.04 L309.53 613.73 L308.33 615.22 L306.96 616.48 L305.45 617.51 M264.54 557.66 L266.19 556.86 L267.97 556.31 L269.86 556.01 L271.84 555.96 L273.91 556.16 L276.04 556.61 L278.22 557.31 L280.44 558.24 L282.67 559.41 L284.91 560.81 L287.12 562.42 L289.30 564.23 L291.43 566.23 L293.49 568.40 L295.47 570.73 L297.36 573.20 L299.13 575.79 L300.77 578.48 L302.28 581.24 L303.63 584.07 L304.83 586.93 L305.86 589.81 L306.71 592.69 L307.37 595.53 L307.85 598.33 L308.14 601.05 L308.23 603.68 L308.13 606.20 L307.83 608.59 L307.34 610.82 L306.67 612.90 L305.81 614.79 L304.77 616.48 L303.56 617.96 L302.20 619.23 L300.69 620.26 M259.75 560.36 L261.40 559.56 L263.18 559.01 L265.07 558.71 L267.06 558.66 L269.12 558.86 L271.26 559.31 L273.44 560.01 L275.66 560.94 L277.90 562.12 L280.13 563.51 L282.35 565.12 L284.53 566.94 L286.66 568.94 L288.72 571.11 L290.71 573.44 L292.59 575.91 L294.36 578.50 L296.01 581.19 L297.51 583.96 L298.87 586.79 L300.07 589.66 L301.10 592.54 L301.95 595.41 L302.61 598.26 L303.09 601.06 L303.38 603.78 L303.47 606.42 L303.37 608.94 L303.07 611.33 L302.58 613.57 L301.91 615.64 L301.05 617.53 L300.01 619.23 L298.80 620.71 L297.44 621.98 L295.92 623.01"/>
<path class="l" style="stroke-width:0.45;stroke:#8a8a8a" d="M338.46 516.90 L340.12 516.61 L341.84 516.53 L343.64 516.63 L345.49 516.94 L347.38 517.43 L349.30 518.11 L351.25 518.98 L353.20 520.03 L355.16 521.25 L357.10 522.64 L359.01 524.19 L360.89 525.88 L362.71 527.72 L364.48 529.68 L366.18 531.76 L367.79 533.94 L369.32 536.21 L370.75 538.55 L372.07 540.96 L373.27 543.42 L374.35 545.91 L375.30 548.42 L376.11 550.93 L376.79 553.43 L377.32 555.90 L377.70 558.33 L377.94 560.71 L378.02 563.01 L377.95 565.23 L377.73 567.35 L377.36 569.35 L376.84 571.24 L376.17 572.99 L375.37 574.60 L374.43 576.05 L373.36 577.34 M333.68 519.60 L335.33 519.31 L337.06 519.23 L338.85 519.33 L340.70 519.64 L342.60 520.13 L344.52 520.81 L346.47 521.68 L348.43 522.73 L350.38 523.96 L352.32 525.35 L354.24 526.89 L356.11 528.59 L357.94 530.43 L359.71 532.39 L361.41 534.47 L363.03 536.65 L364.55 538.92 L365.98 541.27 L367.30 543.68 L368.51 546.14 L369.59 548.63 L370.54 551.14 L371.36 553.66 L372.03 556.16 L372.56 558.63 L372.94 561.06 L373.18 563.44 L373.26 565.74 L373.19 567.96 L372.97 570.09 L372.60 572.10 L372.08 573.98 L371.42 575.74 L370.61 577.34 L369.67 578.80 L368.60 580.09 M328.89 522.30 L330.54 522.01 L332.27 521.93 L334.07 522.03 L335.92 522.34 L337.81 522.83 L339.74 523.52 L341.69 524.39 L343.65 525.44 L345.61 526.66 L347.55 528.05 L349.46 529.60 L351.34 531.30 L353.17 533.14 L354.94 535.10 L356.64 537.18 L358.26 539.36 L359.79 541.64 L361.22 543.99 L362.54 546.40 L363.75 548.86 L364.83 551.36 L365.78 553.87 L366.60 556.38 L367.27 558.89 L367.80 561.36 L368.19 563.80 L368.42 566.17 L368.50 568.48 L368.43 570.70 L368.21 572.83 L367.84 574.84 L367.32 576.73 L366.66 578.48 L365.85 580.09 L364.91 581.54 L363.84 582.84 M324.10 525.00 L325.75 524.71 L327.49 524.63 L329.28 524.73 L331.14 525.04 L333.03 525.53 L334.96 526.22 L336.91 527.09 L338.87 528.14 L340.83 529.36 L342.77 530.76 L344.69 532.31 L346.57 534.01 L348.40 535.84 L350.17 537.81 L351.88 539.89 L353.50 542.08 L355.03 544.35 L356.46 546.71 L357.78 549.12 L358.98 551.58 L360.07 554.08 L361.02 556.59 L361.84 559.11 L362.51 561.62 L363.05 564.09 L363.43 566.53 L363.66 568.91 L363.75 571.22 L363.68 573.44 L363.45 575.57 L363.08 577.58 L362.56 579.47 L361.90 581.23 L361.09 582.84 L360.15 584.29 L359.08 585.58 M319.31 527.70 L320.97 527.42 L322.70 527.33 L324.50 527.44 L326.35 527.74 L328.25 528.23 L330.18 528.92 L332.14 529.79 L334.10 530.84 L336.06 532.07 L338.00 533.46 L339.92 535.01 L341.80 536.71 L343.63 538.55 L345.41 540.52 L347.11 542.60 L348.73 544.79 L350.26 547.07 L351.69 549.42 L353.02 551.84 L354.22 554.31 L355.31 556.80 L356.26 559.32 L357.08 561.84 L357.75 564.35 L358.29 566.83 L358.67 569.26 L358.91 571.64 L358.99 573.95 L358.92 576.18 L358.70 578.31 L358.32 580.32 L357.80 582.21 L357.14 583.97 L356.33 585.58 L355.39 587.04 L354.32 588.33 M314.52 530.40 L316.18 530.12 L317.91 530.03 L319.71 530.14 L321.57 530.44 L323.47 530.93 L325.40 531.62 L327.36 532.49 L329.32 533.54 L331.28 534.77 L333.23 536.17 L335.15 537.72 L337.03 539.42 L338.86 541.26 L340.64 543.23 L342.34 545.32 L343.96 547.51 L345.50 549.79 L346.93 552.14 L348.25 554.56 L349.46 557.03 L350.55 559.53 L351.50 562.05 L352.32 564.57 L353.00 567.08 L353.53 569.56 L353.91 572.00 L354.15 574.38 L354.23 576.69 L354.16 578.92 L353.94 581.05 L353.57 583.06 L353.05 584.96 L352.38 586.71 L351.57 588.33 L350.63 589.79 L349.56 591.08 M309.73 533.10 L311.39 532.82 L313.13 532.73 L314.93 532.84 L316.79 533.14 L318.69 533.64 L320.62 534.32 L322.58 535.19 L324.54 536.25 L326.51 537.48 L328.45 538.87 L330.37 540.43 L332.26 542.13 L334.09 543.97 L335.87 545.94 L337.58 548.03 L339.20 550.22 L340.73 552.50 L342.17 554.86 L343.49 557.28 L344.70 559.75 L345.79 562.25 L346.74 564.77 L347.56 567.29 L348.24 569.80 L348.77 572.29 L349.16 574.73 L349.39 577.11 L349.47 579.43 L349.40 581.66 L349.18 583.79 L348.81 585.80 L348.29 587.70 L347.62 589.46 L346.81 591.07 L345.87 592.53 L344.80 593.83 M304.95 535.80 L306.61 535.52 L308.34 535.43 L310.15 535.54 L312.00 535.84 L313.91 536.34 L315.84 537.02 L317.80 537.90 L319.77 538.95 L321.73 540.18 L323.68 541.58 L325.60 543.13 L327.49 544.84 L329.33 546.68 L331.10 548.65 L332.81 550.74 L334.43 552.93 L335.97 555.22 L337.40 557.58 L338.73 560.00 L339.94 562.47 L341.03 564.97 L341.98 567.50 L342.80 570.02 L343.48 572.53 L344.01 575.02 L344.40 577.46 L344.63 579.85 L344.71 582.16 L344.65 584.39 L344.42 586.52 L344.05 588.54 L343.53 590.44 L342.86 592.20 L342.05 593.82 L341.11 595.28 L340.03 596.57 M300.16 538.50 L301.82 538.22 L303.56 538.13 L305.36 538.24 L307.22 538.54 L309.13 539.04 L311.06 539.72 L313.02 540.60 L314.99 541.65 L316.95 542.88 L318.91 544.28 L320.83 545.84 L322.72 547.54 L324.56 549.39 L326.33 551.36 L328.04 553.45 L329.67 555.65 L331.20 557.93 L332.64 560.29 L333.97 562.72 L335.18 565.19 L336.26 567.70 L337.22 570.22 L338.04 572.75 L338.72 575.26 L339.25 577.75 L339.64 580.20 L339.87 582.58 L339.96 584.90 L339.89 587.13 L339.67 589.26 L339.29 591.29 L338.77 593.18 L338.10 594.95 L337.29 596.56 L336.35 598.03 L335.27 599.32 M295.37 541.20 L297.03 540.92 L298.77 540.83 L300.58 540.94 L302.44 541.24 L304.34 541.74 L306.28 542.43 L308.24 543.30 L310.21 544.36 L312.18 545.59 L314.13 546.99 L316.06 548.54 L317.95 550.25 L319.79 552.10 L321.57 554.07 L323.27 556.17 L324.90 558.36 L326.44 560.65 L327.88 563.01 L329.21 565.44 L330.42 567.91 L331.50 570.42 L332.46 572.95 L333.28 575.47 L333.96 577.99 L334.50 580.48 L334.88 582.93 L335.12 585.32 L335.20 587.64 L335.13 589.87 L334.91 592.00 L334.53 594.03 L334.01 595.93 L333.34 597.69 L332.53 599.31 L331.59 600.77 L330.51 602.07 M290.58 543.90 L292.24 543.62 L293.99 543.53 L295.79 543.64 L297.66 543.94 L299.56 544.44 L301.50 545.13 L303.46 546.00 L305.44 547.06 L307.40 548.29 L309.36 549.69 L311.29 551.25 L313.18 552.96 L315.02 554.81 L316.80 556.78 L318.51 558.88 L320.14 561.08 L321.68 563.36 L323.11 565.73 L324.44 568.16 L325.66 570.63 L326.74 573.14 L327.70 575.67 L328.52 578.20 L329.20 580.72 L329.74 583.21 L330.12 585.66 L330.36 588.05 L330.44 590.37 L330.37 592.61 L330.15 594.74 L329.78 596.77 L329.25 598.67 L328.59 600.44 L327.78 602.05 L326.83 603.52 L325.75 604.82 M285.79 546.60 L287.46 546.32 L289.20 546.23 L291.01 546.34 L292.87 546.64 L294.78 547.14 L296.72 547.83 L298.69 548.70 L300.66 549.76 L302.63 551.00 L304.58 552.40 L306.51 553.96 L308.40 555.67 L310.25 557.52 L312.03 559.49 L313.74 561.59 L315.37 563.79 L316.91 566.08 L318.35 568.45 L319.68 570.88 L320.89 573.35 L321.98 575.87 L322.94 578.40 L323.76 580.93 L324.44 583.45 L324.98 585.94 L325.37 588.39 L325.60 590.79 L325.68 593.11 L325.61 595.35 L325.39 597.48 L325.02 599.51 L324.50 601.41 L323.83 603.18 L323.02 604.80 L322.07 606.27 L320.99 607.57 M281.00 549.30 L282.67 549.02 L284.41 548.93 L286.22 549.04 L288.09 549.34 L290.00 549.84 L291.94 550.53 L293.91 551.41 L295.88 552.47 L297.85 553.70 L299.81 555.10 L301.74 556.66 L303.63 558.37 L305.48 560.23 L307.26 562.21 L308.97 564.30 L310.61 566.50 L312.15 568.79 L313.59 571.16 L314.92 573.60 L316.13 576.08 L317.22 578.59 L318.18 581.12 L319.01 583.66 L319.69 586.18 L320.22 588.67 L320.61 591.13 L320.84 593.52 L320.93 595.85 L320.86 598.09 L320.63 600.22 L320.26 602.25 L319.74 604.16 L319.07 605.92 L318.26 607.55 L317.31 609.01 L316.23 610.31 M276.21 552.00 L277.88 551.72 L279.63 551.63 L281.44 551.74 L283.31 552.04 L285.22 552.54 L287.16 553.23 L289.13 554.11 L291.10 555.17 L293.08 556.40 L295.04 557.81 L296.97 559.37 L298.86 561.08 L300.71 562.93 L302.49 564.92 L304.21 567.01 L305.84 569.22 L307.38 571.51 L308.82 573.88 L310.16 576.31 L311.37 578.80 L312.46 581.31 L313.42 583.85 L314.25 586.38 L314.93 588.91 L315.46 591.40 L315.85 593.86 L316.09 596.26 L316.17 598.58 L316.10 600.82 L315.88 602.96 L315.50 604.99 L314.98 606.90 L314.31 608.67 L313.50 610.29 L312.55 611.76 L311.47 613.06 M271.43 554.70 L273.10 554.42 L274.84 554.33 L276.65 554.44 L278.52 554.74 L280.44 555.24 L282.38 555.93 L284.35 556.81 L286.33 557.87 L288.30 559.11 L290.26 560.51 L292.20 562.07 L294.09 563.79 L295.94 565.64 L297.72 567.63 L299.44 569.73 L301.07 571.93 L302.62 574.23 L304.06 576.60 L305.39 579.03 L306.61 581.52 L307.70 584.04 L308.66 586.57 L309.49 589.11 L310.17 591.64 L310.71 594.14 L311.09 596.59 L311.33 598.99 L311.41 601.32 L311.34 603.56 L311.12 605.70 L310.74 607.74 L310.22 609.64 L309.55 611.41 L308.74 613.04 L307.79 614.51 L306.71 615.81 M266.64 557.40 L268.31 557.12 L270.06 557.03 L271.87 557.14 L273.74 557.44 L275.66 557.94 L277.60 558.63 L279.57 559.51 L281.55 560.57 L283.53 561.81 L285.49 563.22 L287.42 564.78 L289.32 566.50 L291.17 568.35 L292.96 570.34 L294.67 572.44 L296.31 574.64 L297.85 576.94 L299.30 579.32 L300.63 581.75 L301.85 584.24 L302.94 586.76 L303.90 589.30 L304.73 591.84 L305.41 594.37 L305.95 596.87 L306.34 599.33 L306.57 601.73 L306.65 604.06 L306.58 606.30 L306.36 608.44 L305.99 610.48 L305.46 612.38 L304.79 614.16 L303.98 615.78 L303.03 617.25 L301.95 618.56 M261.85 560.10 L263.52 559.82 L265.27 559.73 L267.09 559.84 L268.96 560.14 L270.87 560.64 L272.82 561.34 L274.79 562.22 L276.77 563.28 L278.75 564.51 L280.71 565.92 L282.65 567.49 L284.55 569.20 L286.40 571.06 L288.19 573.05 L289.91 575.15 L291.54 577.36 L293.09 579.66 L294.53 582.03 L295.87 584.47 L297.09 586.96 L298.18 589.48 L299.14 592.02 L299.97 594.56 L300.65 597.09 L301.19 599.60 L301.58 602.06 L301.81 604.46 L301.90 606.79 L301.83 609.04 L301.60 611.18 L301.23 613.22 L300.70 615.13 L300.03 616.90 L299.22 618.53 L298.27 620.00 L297.18 621.30"/>
<path class="l" style="stroke-width:0.5" d="M343.25 514.20 L344.90 513.91 L346.63 513.83 L348.42 513.93 L350.27 514.24 L352.16 514.73 L354.08 515.41 L356.03 516.28 L357.98 517.33 L359.93 518.55 L361.87 519.94 L363.78 521.48 L365.66 523.18 L367.48 525.01 L369.25 526.97 L370.94 529.04 L372.56 531.22 L374.08 533.49 L375.51 535.84 L376.83 538.24 L378.03 540.70 L379.11 543.19 L380.06 545.69 L380.87 548.20 L381.55 550.70 L382.08 553.17 L382.46 555.60 L382.69 557.97 L382.78 560.27 L382.71 562.49 L382.49 564.61 L382.11 566.61 L381.60 568.50 L380.93 570.25 L380.13 571.85 L379.19 573.30 L378.12 574.59"/>
<ellipse class="lw" style="stroke:none" cx="272.90" cy="594.50" rx="36.20" ry="21.00" transform="rotate(60.00 272.90 594.50)"/>
<path class="l" style="stroke-width:0.72;stroke:#3c3c3c" d="M262.00 615.09 L264.28 617.47 L266.63 619.65 L269.05 621.59 L271.50 623.28 L273.96 624.71 L276.41 625.86 L278.83 626.72 L281.20 627.28 L283.48 627.54 L285.68 627.50 L287.75 627.15 L289.69 626.51 L291.47 625.56 L293.08 624.34 L294.51 622.83 L295.73 621.07 L296.75 619.06 L297.55 616.83 L298.12 614.39 L298.46 611.77 L298.56 608.98 L298.42 606.07 L298.06 603.05 L297.46 599.95 L296.63 596.80 L295.58 593.62 L294.33 590.46 L292.88 587.33 L291.24 584.27 L289.44 581.31 L287.48 578.46 L285.39 575.77 L283.19 573.24 L280.89 570.91 L278.51 568.80 L276.09 566.92 L273.63 565.30 L271.17 563.95 L268.73 562.88 L266.32 562.10"/>
<path class="l" d="M265.30 557.20 C264.47 557.55 261.77 558.42 260.30 559.30 C258.83 560.18 257.77 560.67 256.50 562.50 C255.23 564.33 253.62 567.38 252.70 570.30 C251.78 573.22 251.18 577.05 251.00 580.00 C250.82 582.95 251.18 585.50 251.60 588.00 C252.02 590.50 253.18 593.83 253.50 595.00"/>
<path class="l" d="M254.60 567.40 C255.40 566.92 257.47 565.07 259.40 564.50 C261.33 563.93 264.73 563.85 266.20 564.00 C267.67 564.15 267.87 565.17 268.20 565.40"/>
<path d="M265.70 558.00 L289.90 546.50 L312.00 560.60 L283.00 574.00 L268.20 565.40 L262.00 562.00Z" fill="#fff" stroke="none"/>
<path class="l" style="stroke-width:0.75" d="M265.70 558.60 L269.19 559.54 L270.54 556.18 L274.03 557.12 L275.38 553.76 L278.87 554.70 L280.22 551.34 L283.71 552.28 L285.06 548.92 L288.55 549.86 L289.90 546.50"/>
<path class="l" style="stroke-width:0.75" d="M283.50 573.90 L285.34 570.40 L289.20 571.24 L291.04 567.74 L294.90 568.58 L296.74 565.08 L300.60 565.92 L302.44 562.42 L306.30 563.26 L308.14 559.76 L312.00 560.60"/>
<path class="l" d="M289.90 546.50 L312.00 560.60"/>
<path class="l" d="M268.20 565.40 L282.60 573.80"/>
<ellipse class="lw" cx="271.50" cy="593.10" rx="22.60" ry="13.10" transform="rotate(60.00 271.50 593.10)"/>
<ellipse class="l" cx="270.60" cy="594.60" rx="20.20" ry="11.70" transform="rotate(60.00 270.60 594.60)"/>
<path class="l" d="M281.90 587.80 L287.00 592.30 L287.00 594.80 L283.60 596.50"/>
<path class="l" d="M283.60 609.30 L287.00 611.50 L286.50 616.10 L282.80 618.20"/>
<path class="lw" d="M245.40 587.78 L260.56 579.03 L261.65 578.52 L262.84 578.21 L264.12 578.10 L265.47 578.19 L266.87 578.48 L268.32 578.96 L269.79 579.63 L271.27 580.49 L272.73 581.52 L274.18 582.71 L275.59 584.05 L276.94 585.53 L278.22 587.12 L279.41 588.82 L280.51 590.60 L281.51 592.44 L282.38 594.33 L283.12 596.23 L283.72 598.14 L284.18 600.03 L284.49 601.88 L284.65 603.67 L284.65 605.37 L284.50 606.98 L284.20 608.48 L283.74 609.83 L283.14 611.05 L282.41 612.10 L281.54 612.97 L280.56 613.67 L265.40 622.42"/>
<ellipse class="lw" cx="255.40" cy="605.10" rx="20.00" ry="11.50" transform="rotate(60.00 255.40 605.10)"/>
<ellipse class="l" cx="255.60" cy="606.40" rx="14.60" ry="8.40" transform="rotate(60.00 255.60 606.40)"/>
<path d="M222.70 610.61 L241.32 599.86 L242.16 599.49 L243.09 599.31 L244.10 599.31 L245.15 599.50 L246.25 599.87 L247.36 600.43 L248.48 601.15 L249.57 602.02 L250.62 603.04 L251.62 604.18 L252.55 605.42 L253.38 606.75 L254.11 608.14 L254.73 609.56 L255.22 610.99 L255.57 612.42 L255.78 613.80 L255.85 615.12 L255.77 616.36 L255.55 617.50 L255.18 618.51 L254.68 619.38 L254.06 620.10 L253.32 620.64 L234.70 631.39" fill="#d4d4d4" stroke="#444" stroke-width="0.7"/>
<path d="M224.65 610.04l18.19 -10.50M226.93 610.37l18.19 -10.50M229.35 611.55l18.19 -10.50M231.72 613.50l18.19 -10.50M233.85 616.06l18.19 -10.50M235.55 619.01l18.19 -10.50M236.71 622.13l18.19 -10.50M237.21 625.16l18.19 -10.50M237.02 627.85l18.19 -10.50M236.16 629.99l18.19 -10.50" stroke="#333" stroke-width="0.8" fill="none"/>
<ellipse class="lw" style="stroke-width:0.8;stroke:#333" cx="228.70" cy="621.00" rx="12.00" ry="7.00" transform="rotate(60.00 228.70 621.00)"/>
<ellipse class="l" style="stroke:#333" cx="229.00" cy="620.80" rx="9.20" ry="5.40" transform="rotate(60.00 229.00 620.80)"/>
<ellipse class="l" style="stroke:#444" cx="228.90" cy="621.60" rx="6.00" ry="3.70" transform="rotate(60.00 228.90 621.60)"/>
<path class="l" d="M280.50 421.30 L324.00 446.80"/>
<path class="l" d="M287.60 484.90 L331.60 510.20"/>
<path class="l" d="M178.50 719.90 L231.80 750.50"/>
<path class="d" d="M515.3 565.5V624.2 M431.1 625.2V684.7"/>
<g opacity="0.995">
<text x="16.5" y="25.6" font-size="10.3" fill="#111" text-anchor="start" word-spacing="-1.7" letter-spacing="-0.5" textLength="262.5" lengthAdjust="spacingAndGlyphs" stroke="#111" stroke-width="0.18">PARA MONTAGEM SEGUIR INDICAÇÃO DO DESENHO</text>
<text x="16.5" y="39.8" font-size="10.3" fill="#808080" text-anchor="start" word-spacing="-0.6" letter-spacing="-0.5" textLength="327.5" lengthAdjust="spacingAndGlyphs">FOR ASSEMBLY FOLLOW THE INDICATIONS OF THE DRAWING</text>
<text x="351.8" y="143.8" font-size="10.0" fill="#222" text-anchor="start" word-spacing="-1.2" letter-spacing="-0.5" stroke="#222" stroke-width="0.12">X</text>
<text x="351.8" y="172.8" font-size="10.0" fill="#222" text-anchor="start" word-spacing="-1.2" letter-spacing="-0.5" textLength="184.0" lengthAdjust="spacingAndGlyphs" stroke="#222" stroke-width="0.12">FLOW/CLIP: MIN. 45 MM / MAX. 80 MM</text>
<text x="351.8" y="201.8" font-size="10.0" fill="#222" text-anchor="start" word-spacing="-1.2" letter-spacing="-0.5" stroke="#222" stroke-width="0.12">Y</text>
<text x="351.8" y="230.8" font-size="10.0" fill="#222" text-anchor="start" word-spacing="-1.2" letter-spacing="-0.5" textLength="143.0" lengthAdjust="spacingAndGlyphs" stroke="#222" stroke-width="0.12">S22: MIN. 45 MM / MAX. 65MM</text>
<text x="351.8" y="259.8" font-size="10.0" fill="#222" text-anchor="start" word-spacing="-1.2" letter-spacing="-0.5" stroke="#222" stroke-width="0.12">Z</text>
<text x="351.8" y="288.8" font-size="10.0" fill="#222" text-anchor="start" word-spacing="-1.2" letter-spacing="-0.5" textLength="239.0" lengthAdjust="spacingAndGlyphs" stroke="#222" stroke-width="0.12">ITAP / ON-OFF / LAPA : MIN. 117 MM / MAX. 120 MM</text>
<text x="160.0" y="296.7" font-size="11.3" fill="#666" text-anchor="middle" word-spacing="-0.6" letter-spacing="-0.5">X</text>
<text x="160.0" y="334.7" font-size="11.3" fill="#666" text-anchor="middle" word-spacing="-0.6" letter-spacing="-0.5">Y</text>
<text x="160.0" y="372.7" font-size="11.3" fill="#666" text-anchor="middle" word-spacing="-0.6" letter-spacing="-0.5">Z</text>
<text x="134.6" y="419.8" font-size="10.6" fill="#111" text-anchor="start" word-spacing="-1.7" letter-spacing="-0.5" textLength="144.5" lengthAdjust="spacingAndGlyphs" stroke="#111" stroke-width="0.18">SAÍDA CHUVEIRO DE PAREDE</text>
<text x="171.5" y="430.8" font-size="10.4" fill="#808080" text-anchor="start" word-spacing="-0.6" letter-spacing="-0.5" textLength="107.0" lengthAdjust="spacingAndGlyphs">WALL SHOWER EXIT</text>
<text x="465.6" y="642.6" font-size="10.6" fill="#111" text-anchor="start" word-spacing="-1.7" letter-spacing="-0.5" textLength="128.0" lengthAdjust="spacingAndGlyphs" stroke="#111" stroke-width="0.18">SAÍDA CHUVEIRO DE MÃO</text>
<text x="465.6" y="654.9" font-size="10.4" fill="#808080" text-anchor="start" word-spacing="-0.6" letter-spacing="-0.5" textLength="108.2" lengthAdjust="spacingAndGlyphs">HAND SHOWER EXIT</text>
<text x="424.5" y="703.4" font-size="10.6" fill="#111" text-anchor="start" word-spacing="-1.7" letter-spacing="-0.5" textLength="98.0" lengthAdjust="spacingAndGlyphs" stroke="#111" stroke-width="0.18">ENTRADA DE ÁGUA</text>
<text x="424.5" y="716.6" font-size="10.4" fill="#808080" text-anchor="start" word-spacing="-0.6" letter-spacing="-0.5" textLength="109.2" lengthAdjust="spacingAndGlyphs">WATER INLET - G 1/2&quot;</text>
<text x="277.2" y="488.6" font-size="15" fill="#333" style="font-family:'Liberation Sans',sans-serif;font-weight:400">1</text>
<text x="236.4" y="765.2" font-size="17.6" fill="#222" textLength="9" lengthAdjust="spacingAndGlyphs" style="font-family:'Liberation Sans',sans-serif;font-weight:400">2</text>
</g>
</svg>
</body></html>
